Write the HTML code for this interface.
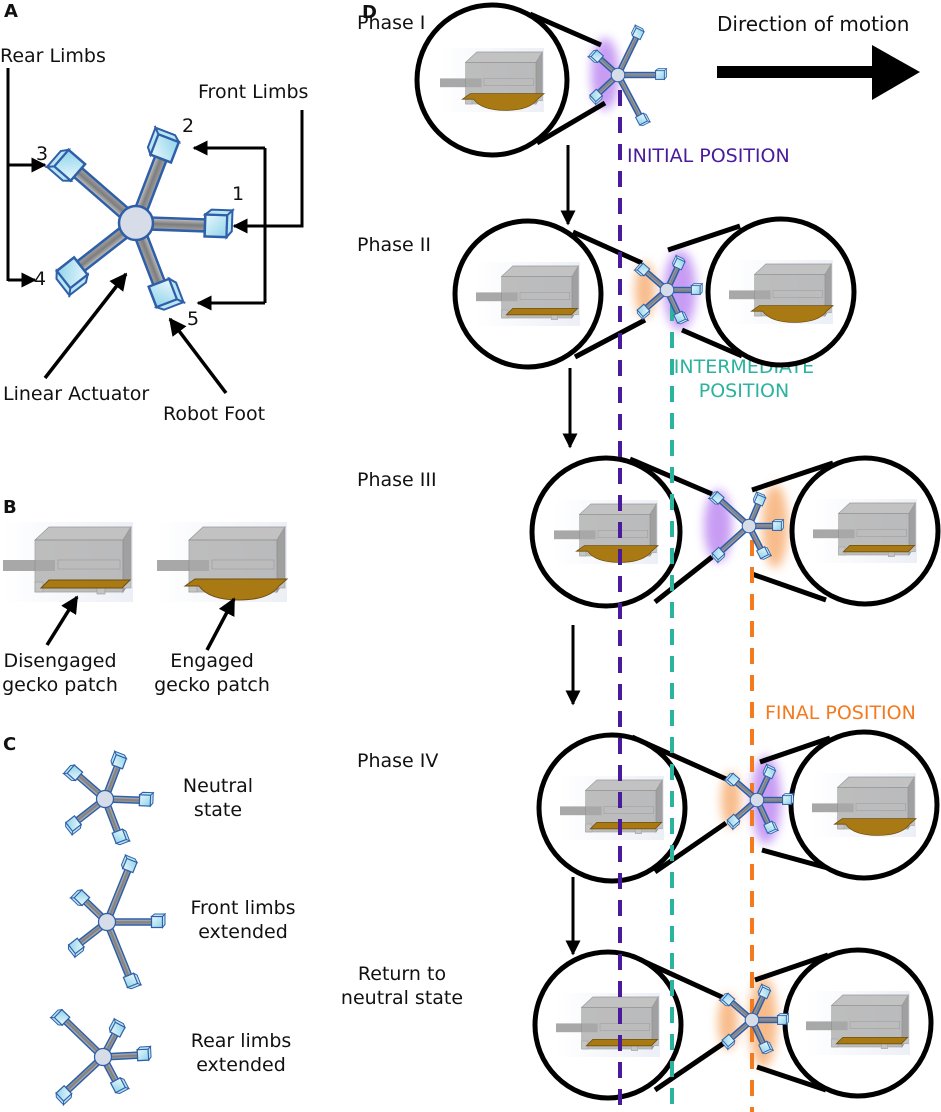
<!DOCTYPE html>
<html><head><meta charset="utf-8"><style>
html,body{margin:0;padding:0;background:#fff}
svg{display:block}
text{font-family:"DejaVu Sans","Liberation Sans",sans-serif;font-size:19px;fill:#111}
</style></head><body>
<svg width="941" height="1112" viewBox="0 0 941 1112" xmlns="http://www.w3.org/2000/svg">
<defs>
<marker id="ah" viewBox="0 0 10 10" refX="9" refY="5" markerWidth="5" markerHeight="5" orient="auto" markerUnits="strokeWidth"><path d="M0,0 L10,5 L0,10 z" fill="#000"/></marker>
<linearGradient id="bar" x1="0" y1="0" x2="0" y2="1"><stop offset="0" stop-color="#c9c9c9"/><stop offset=".5" stop-color="#7d7d7d"/><stop offset="1" stop-color="#a5a5a5"/></linearGradient>
<linearGradient id="cubeg" x1="0" y1="0" x2="1" y2="1"><stop offset="0" stop-color="#e9f8fc"/><stop offset="1" stop-color="#8fd3ea"/></linearGradient>
<linearGradient id="bg" x1="0" y1="0" x2="1" y2="0"><stop offset="0" stop-color="#fff"/><stop offset="1" stop-color="#e4e8f2"/></linearGradient>
<filter id="blur" x="-1" y="-1" width="3" height="3"><feGaussianBlur stdDeviation="5"/></filter>
<g id="cube"><rect x="-11" y="-11" width="22" height="22" fill="url(#cubeg)" stroke="#2f5fa8" stroke-width="2.5"/><path d="M-11,-11 L-5,-16 L16,-16 L11,-11 Z M11,-11 L16,-16 L16,5 L11,11 Z" fill="#b9e6f3" stroke="#2f5fa8" stroke-width="2"/></g>
<g id="hub"><circle r="17" fill="#d6dce8" stroke="#2f5fa8" stroke-width="2.5"/></g>
<g id="block">
<rect x="0" y="0" width="130" height="80" fill="url(#bg)" opacity=".7"/>
<rect x="0" y="38" width="52" height="11" fill="#a8a8a8"/>
<polygon points="32,18 46,5 128,5 120,18" fill="#c2c2c2" stroke="#999" stroke-width=".8"/>
<polygon points="120,18 128,5 128,58 120,70" fill="#a0a0a0" stroke="#999" stroke-width=".8"/>
<rect x="32" y="18" width="88" height="52" fill="#a9a9a9" opacity=".75" stroke="#8a8a8a" stroke-width=".8"/>
<rect x="55" y="38" width="62" height="9" fill="#bcbcbc" stroke="#999" stroke-width=".6"/>
<rect x="32" y="60" width="8" height="10" fill="#c4c4c4" stroke="#999" stroke-width=".6"/>
<rect x="94" y="64" width="8" height="8" fill="#c4c4c4" stroke="#999" stroke-width=".6"/>
<rect x="120" y="58" width="8" height="8" fill="#c4c4c4" stroke="#999" stroke-width=".6"/>
</g>
<g id="dis"><use href="#block"/><polygon points="38,66 46,58 127,58 119,66" fill="#a97a14" stroke="#6e4f0d" stroke-width="1"/></g>
<g id="eng"><use href="#block"/><path d="M28,64 L38,57 L130,57 L122,64 Q112,78 82,78 Q52,78 42,64 Z" fill="#a97a14" stroke="#6e4f0d" stroke-width="1"/></g>
</defs>

<!-- Panel A -->
<text x="4" y="17" style="font-weight:bold;font-size:18px">A</text>
<text x="0" y="62">Rear Limbs</text>
<text x="198" y="98">Front Limbs</text>
<g transform="translate(136,223)">
 <g transform="rotate(2)"><rect x="0" y="-6" width="80" height="12" fill="url(#bar)" stroke="#2f5fa8" stroke-width="2.5"/><use href="#cube" x="80"/></g>
 <g transform="rotate(-69)"><rect x="0" y="-6" width="80" height="12" fill="url(#bar)" stroke="#2f5fa8" stroke-width="2.5"/><use href="#cube" x="80"/></g>
 <g transform="rotate(-139)"><rect x="0" y="-6" width="88" height="12" fill="url(#bar)" stroke="#2f5fa8" stroke-width="2.5"/><use href="#cube" x="88"/></g>
 <g transform="rotate(142)"><rect x="0" y="-6" width="81" height="12" fill="url(#bar)" stroke="#2f5fa8" stroke-width="2.5"/><use href="#cube" x="81"/></g>
 <g transform="rotate(69)"><rect x="0" y="-6" width="75" height="12" fill="url(#bar)" stroke="#2f5fa8" stroke-width="2.5"/><use href="#cube" x="75"/></g>
 <use href="#hub"/>
</g>
<g stroke="#000" stroke-width="3" fill="none">
 <path d="M8,68 V281"/><path d="M8,165 H45" marker-end="url(#ah)"/><path d="M8,280 H35" marker-end="url(#ah)"/>
 <path d="M302,110 V226 H234" marker-end="url(#ah)"/>
 <path d="M265,148 V303"/><path d="M265,148 H194" marker-end="url(#ah)"/><path d="M265,303 H198" marker-end="url(#ah)"/>
 <path d="M45,378 L126,274" marker-end="url(#ah)" stroke-width="3.5"/>
 <path d="M226,393 L170,319" marker-end="url(#ah)" stroke-width="3.5"/>
</g>
<text x="182" y="132">2</text><text x="36" y="160">3</text><text x="232" y="200">1</text><text x="34" y="285">4</text><text x="187" y="325">5</text>
<text x="3" y="400">Linear Actuator</text>
<text x="163" y="420">Robot Foot</text>

<!-- Panel B -->
<text x="3" y="513" style="font-weight:bold;font-size:18px">B</text>
<use href="#dis" x="3" y="522"/>
<use href="#eng" x="157" y="522"/>
<g stroke="#000" stroke-width="3.5" fill="none">
 <path d="M47,645 L77,597" marker-end="url(#ah)"/>
 <path d="M207,650 L234,599" marker-end="url(#ah)"/>
</g>
<text x="60" y="667" text-anchor="middle">Disengaged</text><text x="60" y="691" text-anchor="middle">gecko patch</text>
<text x="212" y="667" text-anchor="middle">Engaged</text><text x="212" y="691" text-anchor="middle">gecko patch</text>

<!-- Panel C -->
<text x="3" y="750" style="font-weight:bold;font-size:18px">C</text>
<g transform="translate(105,799) scale(.5)">
 <g transform="rotate(2)"><rect x="0" y="-6" width="80" height="12" fill="url(#bar)" stroke="#2f5fa8" stroke-width="3"/><use href="#cube" x="80"/></g>
 <g transform="rotate(-69)"><rect x="0" y="-6" width="80" height="12" fill="url(#bar)" stroke="#2f5fa8" stroke-width="3"/><use href="#cube" x="80"/></g>
 <g transform="rotate(-139)"><rect x="0" y="-6" width="80" height="12" fill="url(#bar)" stroke="#2f5fa8" stroke-width="3"/><use href="#cube" x="80"/></g>
 <g transform="rotate(142)"><rect x="0" y="-6" width="80" height="12" fill="url(#bar)" stroke="#2f5fa8" stroke-width="3"/><use href="#cube" x="80"/></g>
 <g transform="rotate(69)"><rect x="0" y="-6" width="80" height="12" fill="url(#bar)" stroke="#2f5fa8" stroke-width="3"/><use href="#cube" x="80"/></g>
 <use href="#hub"/>
</g>
<text x="218" y="792" text-anchor="middle">Neutral</text><text x="218" y="816" text-anchor="middle">state</text>
<g transform="translate(107,922) scale(.5)">
 <g transform="rotate(0)"><rect x="0" y="-6" width="100" height="12" fill="url(#bar)" stroke="#2f5fa8" stroke-width="3"/><use href="#cube" x="100"/></g>
 <g transform="rotate(-68)"><rect x="0" y="-6" width="122" height="12" fill="url(#bar)" stroke="#2f5fa8" stroke-width="3"/><use href="#cube" x="122"/></g>
 <g transform="rotate(-136)"><rect x="0" y="-6" width="70" height="12" fill="url(#bar)" stroke="#2f5fa8" stroke-width="3"/><use href="#cube" x="70"/></g>
 <g transform="rotate(142)"><rect x="0" y="-6" width="78" height="12" fill="url(#bar)" stroke="#2f5fa8" stroke-width="3"/><use href="#cube" x="78"/></g>
 <g transform="rotate(68)"><rect x="0" y="-6" width="126" height="12" fill="url(#bar)" stroke="#2f5fa8" stroke-width="3"/><use href="#cube" x="126"/></g>
 <use href="#hub"/>
</g>
<text x="243" y="914" text-anchor="middle">Front limbs</text><text x="243" y="938" text-anchor="middle">extended</text>
<g transform="translate(103,1057) scale(.5)">
 <g transform="rotate(-3)"><rect x="0" y="-6" width="80" height="12" fill="url(#bar)" stroke="#2f5fa8" stroke-width="3"/><use href="#cube" x="80"/></g>
 <g transform="rotate(-62)"><rect x="0" y="-6" width="62" height="12" fill="url(#bar)" stroke="#2f5fa8" stroke-width="3"/><use href="#cube" x="62"/></g>
 <g transform="rotate(-136)"><rect x="0" y="-6" width="114" height="12" fill="url(#bar)" stroke="#2f5fa8" stroke-width="3"/><use href="#cube" x="114"/></g>
 <g transform="rotate(137)"><rect x="0" y="-6" width="107" height="12" fill="url(#bar)" stroke="#2f5fa8" stroke-width="3"/><use href="#cube" x="107"/></g>
 <g transform="rotate(62)"><rect x="0" y="-6" width="64" height="12" fill="url(#bar)" stroke="#2f5fa8" stroke-width="3"/><use href="#cube" x="64"/></g>
 <use href="#hub"/>
</g>
<text x="241" y="1047" text-anchor="middle">Rear limbs</text><text x="241" y="1071" text-anchor="middle">extended</text>

<!-- Panel D -->
<text x="362" y="18" style="font-weight:bold;font-size:18px">D</text>
<text x="357" y="29">Phase I</text>
<text x="357" y="251">Phase II</text>
<text x="357" y="486">Phase III</text>
<text x="357" y="767">Phase IV</text>
<text x="402" y="980" text-anchor="middle">Return to</text><text x="402" y="1004" text-anchor="middle">neutral state</text>
<text x="717" y="31" style="font-size:20px">Direction of motion</text>
<path d="M717,66 H872 V45 L920,72 L872,100 V78 H717 Z" fill="#000"/>

<!-- glows -->
<g filter="url(#blur)" opacity=".75">
 <ellipse cx="605" cy="74" rx="14" ry="36" fill="#b57cf0"/>
 <ellipse cx="645" cy="290" rx="10" ry="28" fill="#f6a563"/>
 <ellipse cx="680" cy="290" rx="16" ry="40" fill="#b57cf0"/>
 <ellipse cx="718" cy="526" rx="14" ry="36" fill="#b57cf0"/>
 <ellipse cx="775" cy="526" rx="13" ry="42" fill="#f6a563"/>
 <ellipse cx="731" cy="800" rx="10" ry="28" fill="#f6a563"/>
 <ellipse cx="766" cy="800" rx="15" ry="44" fill="#b57cf0"/>
 <ellipse cx="728" cy="1022" rx="10" ry="28" fill="#f6a563"/>
 <ellipse cx="763" cy="1022" rx="14" ry="46" fill="#f6a563"/>
</g>

<text x="627" y="162" style="fill:#4a1a9c">INITIAL POSITION</text>
<text x="744" y="373" text-anchor="middle" style="fill:#2bb39f">INTERMEDIATE</text>
<text x="744" y="397" text-anchor="middle" style="fill:#2bb39f">POSITION</text>
<text x="765" y="719" style="fill:#f47a20">FINAL POSITION</text>

<!-- phase arrows -->
<g stroke="#000" stroke-width="3" fill="none">
 <path d="M568,145 V224" marker-end="url(#ah)"/>
 <path d="M570,368 V447" marker-end="url(#ah)"/>
 <path d="M573,625 V704" marker-end="url(#ah)"/>
 <path d="M573,877 V954" marker-end="url(#ah)"/>
</g>

<!-- magnifier lines -->
<g stroke="#000" stroke-width="5" fill="none">
 <path d="M530,14 L601,45 M537,143 L605,103"/>
 <path d="M573,232 L642,263 M575,357 L645,320 M668,250 L740,226 M682,330 L742,356"/>
 <path d="M630,459 L712,494 M655,602 L712,557 M752,490 L833,463 M752,574 L826,600"/>
 <path d="M632,737 L726,779 M655,872 L726,823 M760,762 L830,738 M762,850 L835,870"/>
 <path d="M632,956 L724,998 M655,1090 L724,1043 M755,980 L828,955 M757,1067 L826,1090"/>
</g>

<!-- circles -->
<g stroke="#000" stroke-width="5" fill="#fff">
 <circle cx="492" cy="80" r="75"/>
 <circle cx="528" cy="294" r="73"/><circle cx="781" cy="292" r="73"/>
 <circle cx="606" cy="532" r="74"/><circle cx="865" cy="531" r="73"/>
 <circle cx="612" cy="808" r="73"/><circle cx="864" cy="805" r="73"/>
 <circle cx="608" cy="1025" r="73"/><circle cx="858" cy="1023" r="73"/>
</g>
<use href="#eng" transform="translate(440,48) scale(.8)"/>
<use href="#dis" transform="translate(476,262) scale(.8)"/>
<use href="#eng" transform="translate(729,260) scale(.8)"/>
<use href="#eng" transform="translate(554,500) scale(.8)"/>
<use href="#dis" transform="translate(813,499) scale(.8)"/>
<use href="#dis" transform="translate(560,776) scale(.8)"/>
<use href="#eng" transform="translate(812,773) scale(.8)"/>
<use href="#dis" transform="translate(556,993) scale(.8)"/>
<use href="#dis" transform="translate(806,991) scale(.8)"/>
<!-- dashed lines -->
<g stroke-width="4" fill="none" stroke-dasharray="16,11">
 <path d="M620,90 V1112" stroke="#4a1a9c"/>
 <path d="M672,305 V1112" stroke="#2bb39f"/>
 <path d="M752,540 V1112" stroke="#f47a20"/>
</g>

<!-- D robots -->
<g transform="translate(618,75) scale(.4)">
 <g transform="rotate(0)"><rect x="0" y="-6" width="105" height="12" fill="url(#bar)" stroke="#2f5fa8" stroke-width="4"/><use href="#cube" x="105"/></g>
 <g transform="rotate(-64)"><rect x="0" y="-6" width="115" height="12" fill="url(#bar)" stroke="#2f5fa8" stroke-width="4"/><use href="#cube" x="115"/></g>
 <g transform="rotate(-138)"><rect x="0" y="-6" width="70" height="12" fill="url(#bar)" stroke="#2f5fa8" stroke-width="4"/><use href="#cube" x="70"/></g>
 <g transform="rotate(137)"><rect x="0" y="-6" width="75" height="12" fill="url(#bar)" stroke="#2f5fa8" stroke-width="4"/><use href="#cube" x="75"/></g>
 <g transform="rotate(62)"><rect x="0" y="-6" width="125" height="12" fill="url(#bar)" stroke="#2f5fa8" stroke-width="4"/><use href="#cube" x="125"/></g>
 <use href="#hub"/>
</g>
<g transform="translate(667,290) scale(.4)">
 <g transform="rotate(0)"><rect x="0" y="-6" width="72" height="12" fill="url(#bar)" stroke="#2f5fa8" stroke-width="4"/><use href="#cube" x="72"/></g>
 <g transform="rotate(-65)"><rect x="0" y="-6" width="72" height="12" fill="url(#bar)" stroke="#2f5fa8" stroke-width="4"/><use href="#cube" x="72"/></g>
 <g transform="rotate(-139)"><rect x="0" y="-6" width="78" height="12" fill="url(#bar)" stroke="#2f5fa8" stroke-width="4"/><use href="#cube" x="78"/></g>
 <g transform="rotate(139)"><rect x="0" y="-6" width="78" height="12" fill="url(#bar)" stroke="#2f5fa8" stroke-width="4"/><use href="#cube" x="78"/></g>
 <g transform="rotate(65)"><rect x="0" y="-6" width="75" height="12" fill="url(#bar)" stroke="#2f5fa8" stroke-width="4"/><use href="#cube" x="75"/></g>
 <use href="#hub"/>
</g>
<g transform="translate(749,526) scale(.4)">
 <g transform="rotate(0)"><rect x="0" y="-6" width="70" height="12" fill="url(#bar)" stroke="#2f5fa8" stroke-width="4"/><use href="#cube" x="70"/></g>
 <g transform="rotate(-67)"><rect x="0" y="-6" width="70" height="12" fill="url(#bar)" stroke="#2f5fa8" stroke-width="4"/><use href="#cube" x="70"/></g>
 <g transform="rotate(-138)"><rect x="0" y="-6" width="105" height="12" fill="url(#bar)" stroke="#2f5fa8" stroke-width="4"/><use href="#cube" x="105"/></g>
 <g transform="rotate(138)"><rect x="0" y="-6" width="103" height="12" fill="url(#bar)" stroke="#2f5fa8" stroke-width="4"/><use href="#cube" x="103"/></g>
 <g transform="rotate(63)"><rect x="0" y="-6" width="75" height="12" fill="url(#bar)" stroke="#2f5fa8" stroke-width="4"/><use href="#cube" x="75"/></g>
 <use href="#hub"/>
</g>
<g transform="translate(757,800) scale(.4)">
 <g transform="rotate(0)"><rect x="0" y="-6" width="75" height="12" fill="url(#bar)" stroke="#2f5fa8" stroke-width="4"/><use href="#cube" x="75"/></g>
 <g transform="rotate(-65)"><rect x="0" y="-6" width="75" height="12" fill="url(#bar)" stroke="#2f5fa8" stroke-width="4"/><use href="#cube" x="75"/></g>
 <g transform="rotate(-139)"><rect x="0" y="-6" width="78" height="12" fill="url(#bar)" stroke="#2f5fa8" stroke-width="4"/><use href="#cube" x="78"/></g>
 <g transform="rotate(139)"><rect x="0" y="-6" width="78" height="12" fill="url(#bar)" stroke="#2f5fa8" stroke-width="4"/><use href="#cube" x="78"/></g>
 <g transform="rotate(65)"><rect x="0" y="-6" width="75" height="12" fill="url(#bar)" stroke="#2f5fa8" stroke-width="4"/><use href="#cube" x="75"/></g>
 <use href="#hub"/>
</g>
<g transform="translate(752,1020) scale(.4)">
 <g transform="rotate(0)"><rect x="0" y="-6" width="75" height="12" fill="url(#bar)" stroke="#2f5fa8" stroke-width="4"/><use href="#cube" x="75"/></g>
 <g transform="rotate(-65)"><rect x="0" y="-6" width="75" height="12" fill="url(#bar)" stroke="#2f5fa8" stroke-width="4"/><use href="#cube" x="75"/></g>
 <g transform="rotate(-139)"><rect x="0" y="-6" width="78" height="12" fill="url(#bar)" stroke="#2f5fa8" stroke-width="4"/><use href="#cube" x="78"/></g>
 <g transform="rotate(139)"><rect x="0" y="-6" width="78" height="12" fill="url(#bar)" stroke="#2f5fa8" stroke-width="4"/><use href="#cube" x="78"/></g>
 <g transform="rotate(65)"><rect x="0" y="-6" width="75" height="12" fill="url(#bar)" stroke="#2f5fa8" stroke-width="4"/><use href="#cube" x="75"/></g>
 <use href="#hub"/>
</g>
</svg>
</body></html>
